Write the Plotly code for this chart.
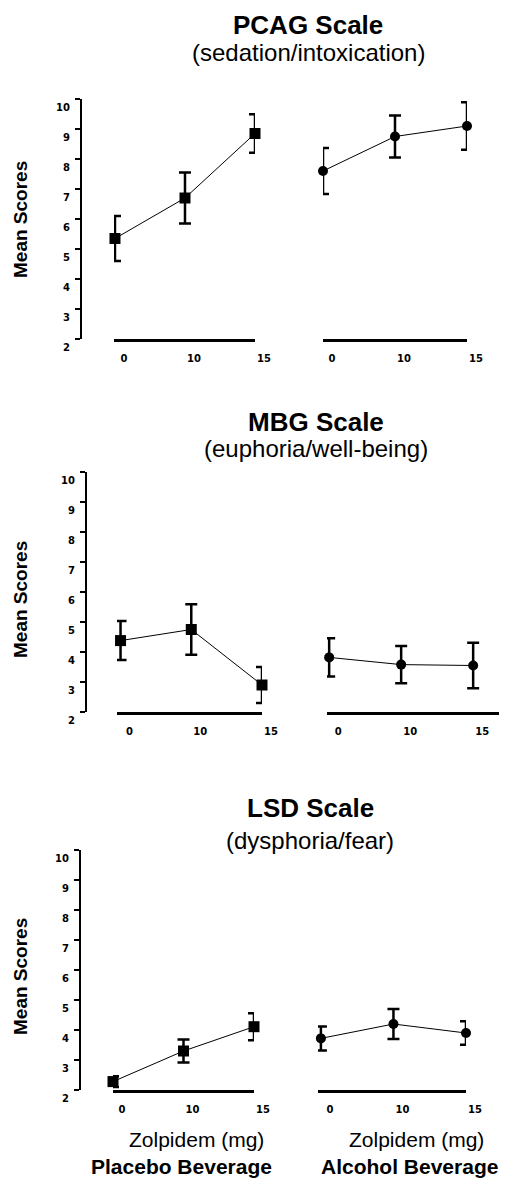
import plotly.graph_objects as go

# window is 507x1181; the page body has an 8px margin, so the figure is 499x1173
OFF = 8
W, H = 507 - OFF, 1181 - OFF

# ---- data ----
doses = ["0", "10", "15"]
dose_ticktext = ["0", "10", "15"]
scale_titles = ["PCAG Scale", "MBG Scale", "LSD Scale"]
scale_subtitles = ["(sedation/intoxication)", "(euphoria/well-being)", "(dysphoria/fear)"]

pcag_placebo = [5.35, 6.70, 8.85]
pcag_placebo_err = [0.75, 0.85, 0.64]
pcag_alcohol = [7.60, 8.75, 9.10]
pcag_alcohol_err = [0.77, 0.70, 0.79]

mbg_placebo = [4.38, 4.75, 2.90]
mbg_placebo_err = [0.65, 0.84, 0.60]
mbg_alcohol = [3.82, 3.58, 3.55]
mbg_alcohol_err = [0.64, 0.62, 0.76]

lsd_placebo = [2.28, 3.30, 4.11]
lsd_placebo_err = [0.18, 0.38, 0.45]
lsd_alcohol = [3.72, 4.20, 3.90]
lsd_alcohol_err = [0.40, 0.50, 0.39]

y_ticks = [2, 3, 4, 5, 6, 7, 8, 9, 10]

placebo_series = [(pcag_placebo, pcag_placebo_err), (mbg_placebo, mbg_placebo_err), (lsd_placebo, lsd_placebo_err)]
alcohol_series = [(pcag_alcohol, pcag_alcohol_err), (mbg_alcohol, mbg_alcohol_err), (lsd_alcohol, lsd_alcohol_err)]

# ---- layout geometry (window pixels) ----
def px(x):
    return (x - OFF) / W

def py(y):
    return 1 - (y - OFF) / H

panel_geo = [
    dict(yx=81, ytop=99, ybot=339, ldom=(114, 255), lrng=(-0.014, 2.0), rdom=(323, 467), rrng=(0, 2)),
    dict(yx=86, ytop=472, ybot=712, ldom=(117, 262), lrng=(-0.05, 2.0), rdom=(327, 507), rrng=(-0.03, 2.47)),
    dict(yx=80, ytop=850, ybot=1090, ldom=(113, 254), lrng=(0, 2.0), rdom=(318, 466), rrng=(-0.04, 2.0)),
]
title_pos = [(308, 25, 52), (316, 422, 449), (310, 808, 840)]
ylabel_y = [220, 600, 977]

fig = go.Figure()
layout = dict(
    width=W, height=H,
    margin=dict(l=0, r=0, t=0, b=0, autoexpand=False),
    paper_bgcolor="white", plot_bgcolor="white",
    showlegend=False,
    font=dict(family="Liberation Sans, Arial, sans-serif", color="black"),
)

tick_font = dict(family="DejaVu Sans", size=10, color="black", weight="bold")

annotations = []
for i in range(3):
    g = panel_geo[i]
    yname = "y" if i == 0 else f"y{i+1}"
    ykey = "yaxis" if i == 0 else f"yaxis{i+1}"
    xl = 2 * i + 1
    xr = 2 * i + 2
    xl_name = "x" if xl == 1 else f"x{xl}"
    xr_name = f"x{xr}"
    xl_key = "xaxis" if xl == 1 else f"xaxis{xl}"
    xr_key = f"xaxis{xr}"

    layout[ykey] = dict(
        domain=[py(g["ybot"]), py(g["ytop"])], range=[2, 10],
        anchor="free", position=px(g["yx"]), automargin=False,
        tickvals=y_ticks, ticktext=[str(v) for v in y_ticks],
        showline=True, linecolor="black", linewidth=2,
        ticks="outside", ticklen=5, tickwidth=2, tickcolor="black",
        showgrid=False, zeroline=False, tickfont=tick_font,
        ticklabelshift=8, ticklabelstandoff=3,
    )
    for key, dom, rng in ((xl_key, g["ldom"], g["lrng"]), (xr_key, g["rdom"], g["rrng"])):
        layout[key] = dict(
            domain=[max(0, px(dom[0])), min(1, px(dom[1]))], range=list(rng), type="category",
            anchor=yname, automargin=False, showline=True, linecolor="black", linewidth=3,
            ticks="", showgrid=False, zeroline=False, tickfont=tick_font,
            tickvals=doses, ticktext=dose_ticktext,
            ticklabelshift=9, ticklabelstandoff=8,
        )

    pm, pe = placebo_series[i]
    am, ae = alcohol_series[i]
    fig.add_trace(go.Scatter(
        x=doses, y=pm, xaxis=xl_name, yaxis=yname, mode="lines+markers",
        line=dict(color="black", width=1),
        marker=dict(symbol="square", size=11, color="black"),
        error_y=dict(type="data", array=pe, visible=True, color="black", thickness=2.5, width=6),
        cliponaxis=False,
    ))
    fig.add_trace(go.Scatter(
        x=doses, y=am, xaxis=xr_name, yaxis=yname, mode="lines+markers",
        line=dict(color="black", width=1),
        marker=dict(symbol="circle", size=10, color="black"),
        error_y=dict(type="data", array=ae, visible=True, color="black", thickness=2.5, width=6),
        cliponaxis=False,
    ))

    tx, ty1, ty2 = title_pos[i]
    annotations.append(dict(text=f"<b>{scale_titles[i]}</b>", x=px(tx), y=py(ty1), xref="paper", yref="paper",
                            xanchor="center", yanchor="middle", showarrow=False,
                            font=dict(size=26, color="black")))
    annotations.append(dict(text=scale_subtitles[i], x=px(tx), y=py(ty2), xref="paper", yref="paper",
                            xanchor="center", yanchor="middle", showarrow=False,
                            font=dict(size=24, color="black")))
    annotations.append(dict(text="<b>Mean Scores</b>", x=px(20), y=py(ylabel_y[i]), xref="paper", yref="paper",
                            xanchor="center", yanchor="middle", showarrow=False, textangle=-90,
                            font=dict(size=19, color="black")))

# bottom labels
annotations.append(dict(text="Zolpidem (mg)", x=px(196), y=py(1139), xref="paper", yref="paper",
                        xanchor="center", yanchor="middle", showarrow=False, font=dict(size=21, color="black")))
annotations.append(dict(text="Zolpidem (mg)", x=px(416), y=py(1139), xref="paper", yref="paper",
                        xanchor="center", yanchor="middle", showarrow=False, font=dict(size=21, color="black")))
annotations.append(dict(text="<b>Placebo Beverage</b>", x=px(181), y=py(1166), xref="paper", yref="paper",
                        xanchor="center", yanchor="middle", showarrow=False, font=dict(size=21, color="black")))
annotations.append(dict(text="<b>Alcohol Beverage</b>", x=px(409), y=py(1166), xref="paper", yref="paper",
                        xanchor="center", yanchor="middle", showarrow=False, font=dict(size=21, color="black")))

layout["annotations"] = annotations
fig.update_layout(**layout)
fig.write_html("out.html")
